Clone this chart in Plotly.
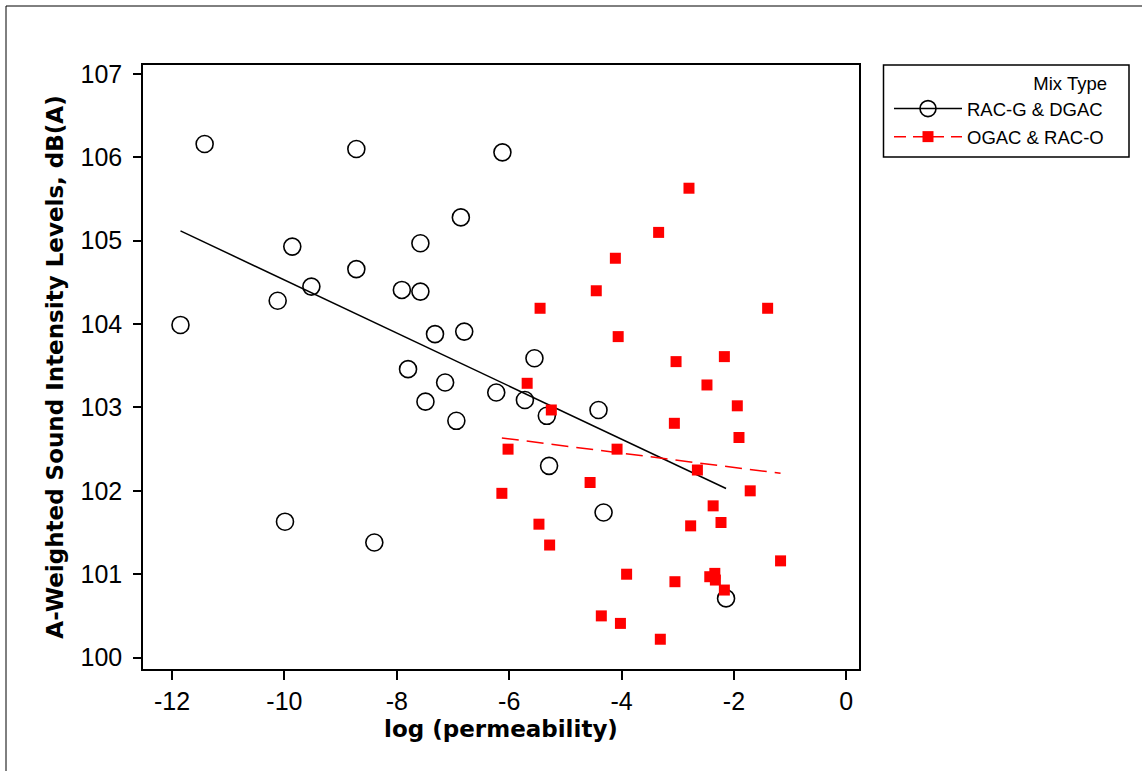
import numpy as np
import plotly.graph_objects as go

# RAC-G & DGAC (open circles)
rac_g_x = [-11.42, -11.85, -10.12, -9.86, -9.52, -9.99, -8.72, -8.72, -7.91, -7.58,
           -7.58, -8.40, -7.80, -7.49, -7.32, -7.14, -6.94, -6.80, -6.86, -6.12,
           -6.23, -5.72, -5.55, -5.33, -5.29, -4.41, -4.32, -2.14]
rac_g_y = [106.16, 103.99, 104.28, 104.93, 104.45, 101.63, 106.10, 104.66, 104.41, 104.39,
           104.97, 101.38, 103.46, 103.07, 103.88, 103.30, 102.84, 103.91, 105.28, 106.06,
           103.18, 103.09, 103.59, 102.90, 102.30, 102.97, 101.74, 100.71]

# OGAC & RAC-O (red squares)
ogac_x = [-2.80, -3.34, -4.11, -4.45, -5.45, -1.40, -4.06, -3.03, -2.17, -2.48,
          -5.68, -1.94, -5.25, -3.06, -1.91, -6.02, -4.08, -2.65, -4.56, -6.13,
          -1.71, -2.37, -2.23, -2.77, -5.47, -5.28, -1.17, -3.91, -3.05, -2.43,
          -2.34, -2.33, -2.17, -4.36, -4.02, -3.31]
ogac_y = [105.63, 105.10, 104.79, 104.40, 104.19, 104.19, 103.85, 103.55, 103.61, 103.27,
          103.29, 103.02, 102.97, 102.81, 102.64, 102.50, 102.50, 102.25, 102.10, 101.97,
          102.00, 101.82, 101.62, 101.58, 101.60, 101.35, 101.16, 101.00, 100.91, 100.97,
          101.01, 100.93, 100.81, 100.50, 100.41, 100.22]

x_ticks = [-12, -10, -8, -6, -4, -2, 0]
y_ticks = [100, 101, 102, 103, 104, 105, 106, 107]

TICK_FONT = dict(family="Liberation Sans, Arial, sans-serif", size=25, color="black")
TITLE_FONT = dict(family="DejaVu Sans, sans-serif", size=23, color="black")
LEG_FONT = dict(family="Liberation Sans, Arial, sans-serif", size=18.5, color="black")


def fit_line(xs, ys):
    xs = np.asarray(xs)
    slope, icpt = np.polyfit(xs, np.asarray(ys), 1)
    xl = np.array([xs.min(), xs.max()])
    return xl, slope * xl + icpt


fig = go.Figure()

# regression lines
gx, gy = fit_line(rac_g_x, rac_g_y)
fig.add_trace(go.Scatter(x=gx, y=gy, mode="lines", line=dict(color="black", width=1.5),
                         showlegend=False, hoverinfo="skip"))
ox, oy = fit_line(ogac_x, ogac_y)
fig.add_trace(go.Scatter(x=ox, y=oy, mode="lines",
                         line=dict(color="red", width=1.5, dash="17px,8px"),
                         showlegend=False, hoverinfo="skip"))

# points
fig.add_trace(go.Scatter(
    x=rac_g_x, y=rac_g_y, mode="markers", showlegend=False,
    marker=dict(symbol="circle-open", size=17, color="black", line=dict(width=1.6)),
))
fig.add_trace(go.Scatter(
    x=ogac_x, y=ogac_y, mode="markers", showlegend=False,
    marker=dict(symbol="square", size=11, color="red"),
))

# legend entries (line + marker)
fig.add_trace(go.Scatter(
    x=[None], y=[None], mode="lines+markers", name="RAC-G & DGAC", legendgroup="a",
    line=dict(color="black", width=1.5),
    marker=dict(symbol="circle-open", size=16, color="black", line=dict(width=1.6)),
))
fig.add_trace(go.Scatter(
    x=[None], y=[None], mode="lines+markers", name="OGAC & RAC-O", legendgroup="b",
    line=dict(color="red", width=1.5, dash="12px,7px"),
    marker=dict(symbol="square", size=11, color="red"),
))

L, R, T, B = 143, 859, 65, 669
W, H = R - L, B - T


def px_x(p):
    return (p - L) / W


def px_y(p):
    return (B - p) / H


shapes = [
    # outer frame
    dict(type="rect", xref="paper", yref="paper",
         x0=px_x(6), x1=px_x(1150), y0=px_y(780), y1=px_y(6),
         line=dict(color="black", width=1)),
    # legend box
    dict(type="rect", xref="paper", yref="paper",
         x0=px_x(883.5), x1=px_x(1129), y0=px_y(157), y1=px_y(65),
         line=dict(color="black", width=1.5)),
]

fig.update_layout(
    width=1142, height=771,
    margin=dict(l=L, r=1142 - R, t=T, b=771 - B, autoexpand=False),
    paper_bgcolor="white", plot_bgcolor="white",
    shapes=shapes,
    showlegend=True,
    legend=dict(
        x=px_x(889), y=px_y(66), xanchor="left", yanchor="top",
        bgcolor="rgba(0,0,0,0)", borderwidth=0,
        font=LEG_FONT,
        title=dict(text="Mix Type", side="top right", font=LEG_FONT),
        traceorder="grouped", tracegroupgap=1, itemwidth=68,
    ),
    xaxis=dict(
        range=[-12.517, 0.226], tickvals=x_ticks, ticktext=[str(v) for v in x_ticks],
        showgrid=False, zeroline=False, showline=True, mirror=True,
        linecolor="black", linewidth=1.5,
        ticks="outside", ticklen=9, tickwidth=1.5, tickcolor="black",
        tickfont=TICK_FONT,
        title=dict(text="<b>log (permeability)</b>", font=TITLE_FONT, standoff=7),
    ),
    yaxis=dict(
        range=[99.863, 107.108], tickvals=y_ticks,
        showgrid=False, zeroline=False, showline=True, mirror=True,
        linecolor="black", linewidth=1.5,
        ticks="outside", ticklen=8, tickwidth=1.5, tickcolor="black",
        tickfont=TICK_FONT, ticklabelstandoff=6,
        title=dict(text="<b>A-Weighted Sound Intensity Levels, dB(A)</b>",
                   font=TITLE_FONT, standoff=10),
    ),
)

fig.write_html(
    "out.html",
    config={"displayModeBar": False},
    post_script="document.body.style.margin='0px';document.body.style.overflow='hidden';",
)
